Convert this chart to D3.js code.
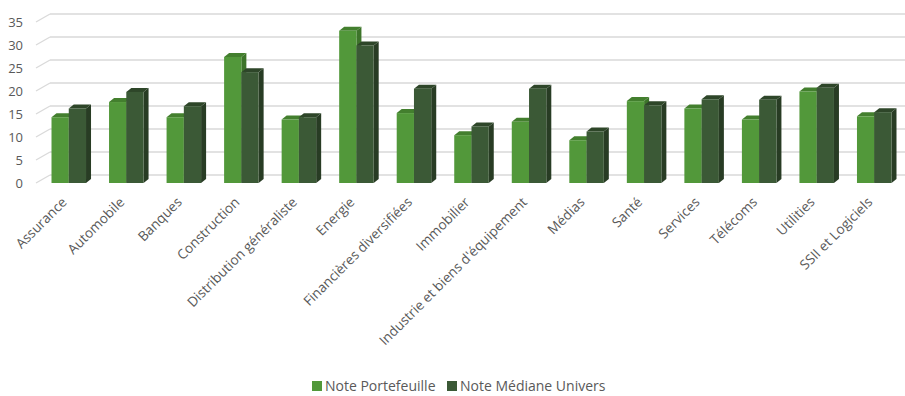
<!DOCTYPE html>
<html>
<head>
<meta charset="utf-8">
<script src="https://cdn.jsdelivr.net/npm/d3@7"></script>
<style>
  html, body { margin: 0; padding: 0; background: #fff; }
  svg { display: block; font-family: "Open Sans", sans-serif; }
</style>
</head>
<body>
<svg id="chart" width="905" height="396"></svg>
<script>
// Sector scores: portfolio vs. universe median
const categories = ["Assurance", "Automobile", "Banques", "Construction", "Distribution généraliste",
  "Energie", "Financières diversifiées", "Immobilier", "Industrie et biens d'équipement", "Médias",
  "Santé", "Services", "Télécoms", "Utilities", "SSII et Logiciels"];
const notePortefeuille = [14.3, 17.6, 14.3, 27.4, 13.8, 33.1, 15.2, 10.4, 13.3, 9.3, 17.8, 16.2, 13.8, 19.9, 14.5];
const noteMedianeUnivers = [16.2, 19.8, 16.7, 24.1, 14.3, 29.9, 20.5, 12.3, 20.5, 11.2, 16.9, 18.2, 18.1, 20.7, 15.4];
const seriesNames = ["Note Portefeuille", "Note Médiane Univers"];
const yTicks = [0, 5, 10, 15, 20, 25, 30, 35];

const svg = d3.select("#chart");
const textColor = "#595959";

// Front plane scales
const x = d3.scaleBand().domain(categories).range([40, 903]);
const inner = d3.scaleBand().domain([0, 1]).range([x.bandwidth() * 0.2, x.bandwidth() * 0.8]);
const y = d3.scaleLinear().domain([0, 35]).range([183, 22]);

// Depth offset of the back wall relative to the front plane
const wallDx = 14, wallDy = 8;
// Depth of each bar
const barDx = 5, barDy = 4;

// Back wall gridlines and their diagonal floor ticks
const grid = svg.append("g");
yTicks.forEach(v => {
  grid.append("line")
    .attr("x1", 36 + wallDx).attr("x2", 905)
    .attr("y1", y(v) - wallDy).attr("y2", y(v) - wallDy)
    .attr("stroke", "#d9d9d9").attr("stroke-width", 1.6);
  grid.append("line")
    .attr("x1", 36).attr("y1", y(v))
    .attr("x2", 36 + wallDx).attr("y2", y(v) - wallDy)
    .attr("stroke", "#d9d9d9").attr("stroke-width", 1.2);
});

// Y axis labels
svg.append("g").selectAll("text").data(yTicks).join("text")
  .attr("x", 23).attr("y", d => y(d) + 2)
  .attr("text-anchor", "end").attr("dominant-baseline", "middle")
  .attr("font-size", 13).attr("fill", textColor)
  .text(d => d);

// 3D columns
const palettes = [
  { front: "#52983a", top: "#437f2e", side: "#3d742a" },
  { front: "#3b5936", top: "#2e4629", side: "#283c24" }
];
const series = [notePortefeuille, noteMedianeUnivers];
const bars = svg.append("g");
categories.forEach((c, i) => {
  series.forEach((vals, s) => {
    const x0 = x(c) + inner(s);
    const w = inner.bandwidth();
    const yt = y(vals[i]);
    const yb = y(0);
    const pal = palettes[s];
    const g = bars.append("g");
    // side face
    g.append("path")
      .attr("d", `M${x0 + w},${yt} L${x0 + w + barDx},${yt - barDy} L${x0 + w + barDx},${yb - barDy} L${x0 + w},${yb} Z`)
      .attr("fill", pal.side);
    // top face
    g.append("path")
      .attr("d", `M${x0},${yt} L${x0 + barDx},${yt - barDy} L${x0 + w + barDx},${yt - barDy} L${x0 + w},${yt} Z`)
      .attr("fill", pal.top);
    // front face
    g.append("rect")
      .attr("x", x0).attr("y", yt)
      .attr("width", w).attr("height", yb - yt)
      .attr("fill", pal.front);
  });
});

// Category labels, rotated
svg.append("g").selectAll("text").data(categories).join("text")
  .attr("transform", d => `translate(${x(d) + x.bandwidth() / 2 - 1},${203}) rotate(-45)`)
  .attr("text-anchor", "end")
  .attr("font-size", 13.6).attr("fill", textColor)
  .text(d => d);

// Legend
const legend = svg.append("g").attr("font-size", 14).attr("fill", textColor);
const legendItems = [
  { name: seriesNames[0], color: palettes[0].front, x: 312 },
  { name: seriesNames[1], color: palettes[1].front, x: 447 }
];
legendItems.forEach(it => {
  legend.append("rect").attr("x", it.x).attr("y", 381)
    .attr("width", 10).attr("height", 10).attr("fill", it.color);
  legend.append("text").attr("x", it.x + 13).attr("y", 391)
    .attr("fill", textColor).text(it.name);
});
</script>
</body>
</html>
